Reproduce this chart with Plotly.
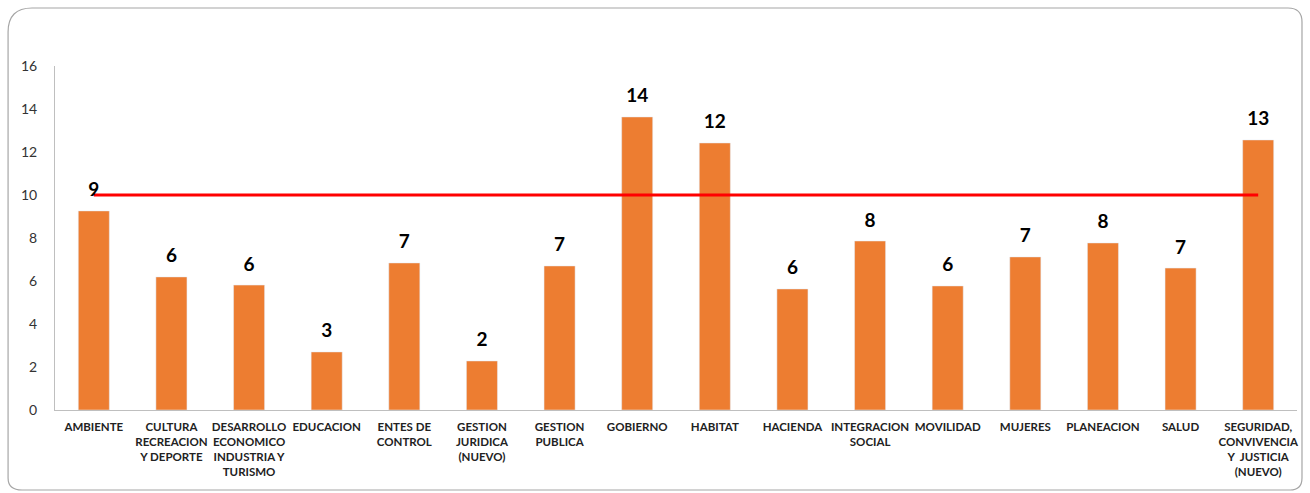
import plotly.graph_objects as go

categories = ["AMBIENTE", "CULTURA<br>RECREACION<br>Y DEPORTE", "DESARROLLO<br>ECONOMICO<br>INDUSTRIA Y<br>TURISMO",
              "EDUCACION", "ENTES DE<br>CONTROL", "GESTION<br>JURIDICA<br>(NUEVO)", "GESTION<br>PUBLICA",
              "GOBIERNO", "HABITAT", "HACIENDA", "INTEGRACION<br>SOCIAL", "MOVILIDAD", "MUJERES",
              "PLANEACION", "SALUD", "SEGURIDAD,<br>CONVIVENCIA<br>Y  JUSTICIA<br>(NUEVO)"]
values = [9.26, 6.19, 5.81, 2.7, 6.84, 2.28, 6.7, 13.63, 12.42, 5.63, 7.86, 5.77, 7.12, 7.77, 6.6, 12.56]
target = [10] * len(categories)
y_ticks = [0, 2, 4, 6, 8, 10, 12, 14, 16]

W, H = 1310, 493
pl, pr, pt, pb = 55, 11, 66, 83

fig = go.Figure()
fig.add_trace(go.Bar(
    x=categories, y=values, marker_color="#ED7D31", width=0.4,
    showlegend=False, hoverinfo="x+y",
))
fig.add_trace(go.Scatter(
    x=categories, y=target, mode="lines",
    line=dict(color="#FF0000", width=3), showlegend=False,
))
fig.add_trace(go.Scatter(
    x=categories, y=values, mode="markers+text",
    marker=dict(size=14, opacity=0),
    text=[f"{v:.0f}" for v in values], textposition="top center",
    textfont=dict(size=19, color="black", family="Lato", weight="bold"),
    cliponaxis=False, showlegend=False, hoverinfo="skip",
))

pw, ph = W - pl - pr, H - pt - pb
def px(x): return (x - pl) / pw
def py(y): return (H - pb - y) / ph
path = "M {a},{b} L {c},{d} Q {e},{f} {g},{h} L {i},{j} Q {k},{l} {m},{n} L {o},{p} Q {q},{r} {s},{t} L {u},{v} Q {w},{x} {y},{z} Z".format(
    a=px(8), b=py(478), c=px(8), d=py(32), e=px(8), f=py(8), g=px(32), h=py(8),
    i=px(1290), j=py(8), k=px(1304), l=py(8), m=px(1304), n=py(22),
    o=px(1304), p=py(478), q=px(1304), r=py(490), s=px(1292), t=py(490),
    u=px(22), v=py(490), w=px(8), x=py(490), y=px(8), z=py(478))

fig.update_layout(
    width=W, height=H,
    margin=dict(l=pl, r=pr, t=pt, b=pb),
    plot_bgcolor="white", paper_bgcolor="white",
    font=dict(family="Lato", color="#222"),
    xaxis=dict(range=[-0.5, len(categories) - 0.5], showline=True, linecolor="#BFBFBF",
               linewidth=1, showgrid=False, ticklabelstandoff=6,
               tickfont=dict(size=11.5, family="Lato", weight="bold", color="#222"),
               ticks="", tickangle=0),
    yaxis=dict(range=[0, 16], tickvals=y_ticks, showline=True, linecolor="#BFBFBF",
               linewidth=1, showgrid=False, zeroline=False, ticks="",
               ticklabelstandoff=14, tickfont=dict(size=14, color="#333")),
    shapes=[dict(type="path", xref="paper", yref="paper", path=path,
                 line=dict(color="#A6A6A6", width=1.2), layer="below")],
)

fig.write_html("out.html", config={"displayModeBar": False},
               post_script="document.body.style.margin='0px';document.body.style.overflow='hidden';")
